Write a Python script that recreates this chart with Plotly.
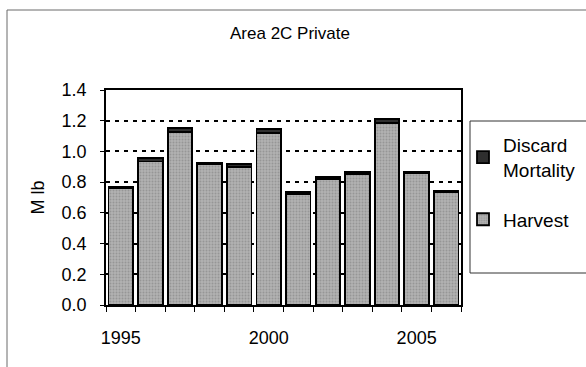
import plotly.graph_objects as go

years = [1995, 1996, 1997, 1998, 1999, 2000, 2001, 2002, 2003, 2004, 2005, 2006]
harvest = [0.760, 0.935, 1.125, 0.915, 0.898, 1.120, 0.725, 0.820, 0.852, 1.185, 0.856, 0.732]
discard = [0.012, 0.020, 0.027, 0.012, 0.022, 0.027, 0.012, 0.012, 0.012, 0.027, 0.012, 0.012]
year_labels = [1995, 2000, 2005]
y_ticks = [0.0, 0.2, 0.4, 0.6, 0.8, 1.0, 1.2, 1.4]

FONT = "Arial, Liberation Sans, sans-serif"
W, H = 586, 367
L, R, T, B = 106, 125, 90, 62
pw, ph = W - L - R, H - T - B


def px_x(v):
    return (v - L) / pw


def px_y(v):
    return (H - B - v) / ph


fig = go.Figure()
fig.add_trace(go.Bar(
    x=years, y=harvest, name="Harvest", legendgroup="h", legendrank=2,
    marker=dict(color="#ababab", line=dict(color="black", width=1.8),
                pattern=dict(shape=".", fgcolor="#7a7a7a", bgcolor="#b2b2b2",
                             size=3, solidity=0.35)),
))
fig.add_trace(go.Bar(
    x=years, y=discard, name="Discard<br>Mortality", legendgroup="d", legendrank=1,
    marker=dict(color="#2e2e2e", line=dict(color="black", width=1.8)),
))

fig.update_layout(
    width=W, height=H,
    margin=dict(l=L, r=R, t=T, b=B, autoexpand=False),
    barmode="stack", bargap=0.17,
    paper_bgcolor="white", plot_bgcolor="white",
    font=dict(family=FONT, color="black", size=18),
    title=dict(text="Area 2C Private", x=290 / W, xanchor="center",
               y=1 - 33 / H, yanchor="middle",
               font=dict(family=FONT, size=17, color="black")),
    showlegend=True,
    legend=dict(x=px_x(463), xanchor="left", y=px_y(126), yanchor="top",
                font=dict(family=FONT, size=19, color="black"),
                bgcolor="rgba(0,0,0,0)", borderwidth=0,
                traceorder="grouped", tracegroupgap=22),
)

fig.update_xaxes(
    range=[1994.5, 2006.5], tickmode="array", tickvals=year_labels,
    ticktext=[str(v) for v in year_labels], ticks="outside", ticklen=0,
    ticklabelstandoff=16,
    showline=True, linecolor="black", linewidth=1.5, mirror=True,
    showgrid=False, zeroline=False,
    tickfont=dict(family=FONT, size=18, color="black"),
    minor=dict(tickmode="linear", tick0=1994.5, dtick=1, ticks="outside", ticklen=5,
               tickcolor="black", tickwidth=1, showgrid=False),
)
fig.update_yaxes(
    range=[0, 1.4], tickmode="array", tickvals=y_ticks,
    ticktext=[f"{v:.1f}" for v in y_ticks],
    ticks="outside", ticklen=4, tickcolor="black", ticklabelstandoff=10,
    showline=True, linecolor="black", linewidth=1.5, mirror=True,
    showgrid=True, gridcolor="black", gridwidth=2, griddash="4px,5px",
    zeroline=False,
    tickfont=dict(family=FONT, size=18, color="black"),
    title=dict(text="M lb", standoff=12, font=dict(family=FONT, size=18, color="black")),
)

# outer chart frame (top and left edges visible in reference)
fig.add_shape(type="line", xref="paper", yref="paper",
              x0=px_x(7), x1=px_x(600), y0=px_y(10), y1=px_y(10),
              line=dict(color="#6a6a6a", width=1))
fig.add_shape(type="line", xref="paper", yref="paper",
              x0=px_x(7), x1=px_x(7), y0=px_y(10), y1=px_y(380),
              line=dict(color="#6a6a6a", width=1))
# legend box
fig.add_shape(type="rect", xref="paper", yref="paper",
              x0=px_x(470), x1=px_x(600), y0=px_y(273), y1=px_y(121),
              line=dict(color="#333333", width=1), fillcolor="rgba(0,0,0,0)")

fig.write_html("out.html")
